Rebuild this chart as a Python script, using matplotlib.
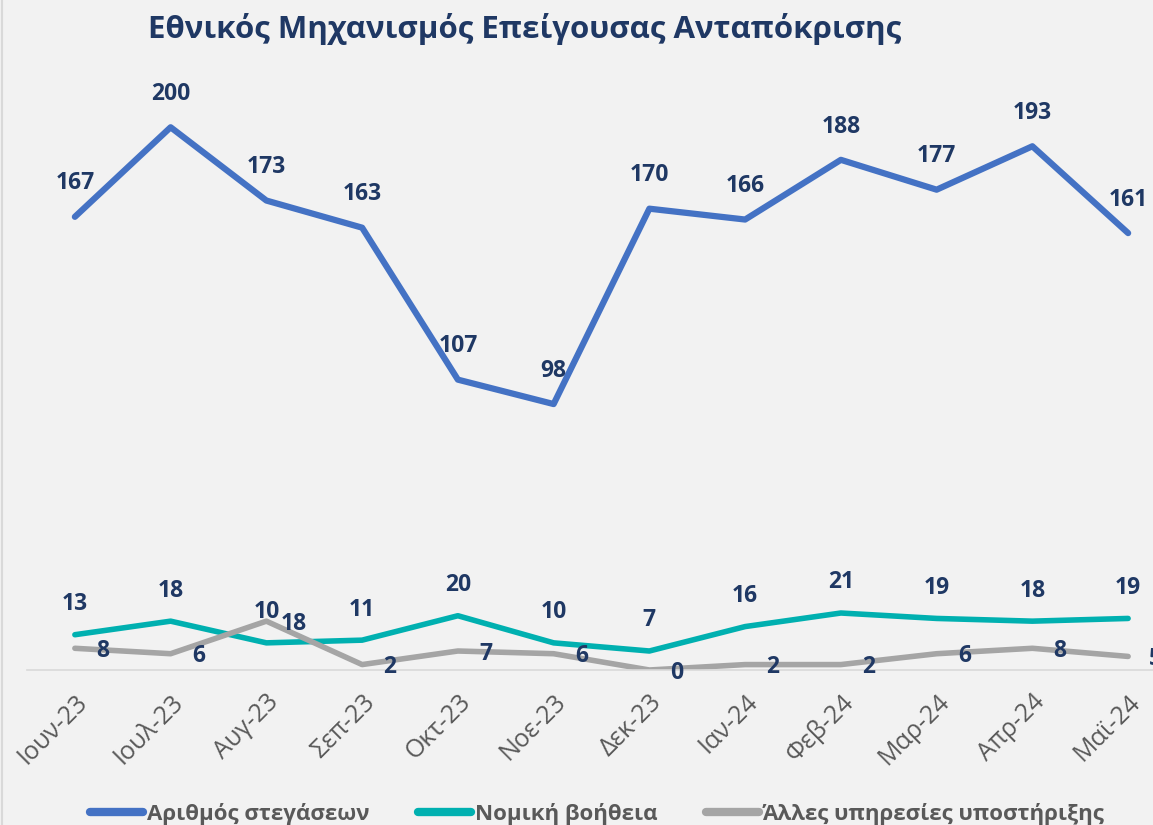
import matplotlib
matplotlib.use("Agg")
import matplotlib.pyplot as plt
from matplotlib.lines import Line2D

# Δεδομένα
months = ["Ιουν-23", "Ιουλ-23", "Αυγ-23", "Σεπ-23", "Οκτ-23", "Νοε-23",
          "Δεκ-23", "Ιαν-24", "Φεβ-24", "Μαρ-24", "Απρ-24", "Μαϊ-24"]
stegaseis = [167, 200, 173, 163, 107, 98, 170, 166, 188, 177, 193, 161]
nomiki = [13, 18, 10, 11, 20, 10, 7, 16, 21, 19, 18, 19]
alles = [8, 6, 18, 2, 7, 6, 0, 2, 2, 6, 8, 5]

plt.rcParams['font.family'] = ['Open Sans', 'DejaVu Sans']
bg = "#F2F2F2"
navy = "#1F3864"

fig = plt.figure(figsize=(11.53, 8.25), dpi=100, facecolor=bg)
ax = fig.add_axes([27/1153, 155/825, 1149/1153, 597/825])
ax.set_facecolor(bg)

x = list(range(len(months)))
ax.plot(x, stegaseis, color="#4472C4", lw=4.5, solid_capstyle="round", label="Αριθμός στεγάσεων", zorder=3)
ax.plot(x, nomiki, color="#00B0B0", lw=4, solid_capstyle="round", label="Νομική βοήθεια", zorder=2)
ax.plot(x, alles, color="#A5A5A5", lw=4, solid_capstyle="round", label="Άλλες υπηρεσίες υποστήριξης", zorder=2)

ax.set_xlim(-0.5, 11.5)
ax.set_ylim(0, 220)

# ετικέτες τιμών
for i in x:
    ax.annotate(str(stegaseis[i]), (i, stegaseis[i]), xytext=(0, 24), textcoords="offset points",
                ha="center", va="center", fontsize=16.5, fontweight="bold", color=navy, clip_on=False)
    ax.annotate(str(nomiki[i]), (i, nomiki[i]), xytext=(0, 22), textcoords="offset points",
                ha="center", va="center", fontsize=16.5, fontweight="bold", color=navy, clip_on=False)
    ax.annotate(str(alles[i]), (i, alles[i]), xytext=(20, -2), textcoords="offset points",
                ha="center", va="center", fontsize=16.5, fontweight="bold", color=navy, clip_on=False)

for s in ["top", "right", "left"]:
    ax.spines[s].set_visible(False)
ax.spines["bottom"].set_color("#D9D9D9")
ax.spines["bottom"].set_linewidth(1.2)
ax.set_yticks([])
ax.set_xticks(x)
ax.set_xticklabels(months, rotation=45, ha="right", va="top", rotation_mode="anchor",
                   fontsize=18, color="#595959")
ax.tick_params(axis="x", length=0, pad=14)

fig.text(0.455, 0.965, "Εθνικός Μηχανισμός Επείγουσας Ανταπόκρισης", ha="center", va="center",
         fontsize=22.5, fontweight="bold", color=navy)

# λεπτό περίγραμμα αριστερά
fig.add_artist(Line2D([0.002, 0.002], [0, 1], transform=fig.transFigure, color="#D9D9D9", lw=1.5))

leg = fig.legend(loc="center", bbox_to_anchor=(0.518, 0.013), ncol=3, frameon=False,
                 handlelength=2.4, handletextpad=0.15, columnspacing=2.2,
                 prop={"size": 16, "weight": "bold"})
for t in leg.get_texts():
    t.set_color("#595959")
for h in leg.get_lines():
    h.set_linewidth(6)

fig.savefig("out.png", dpi=100, facecolor=bg)
